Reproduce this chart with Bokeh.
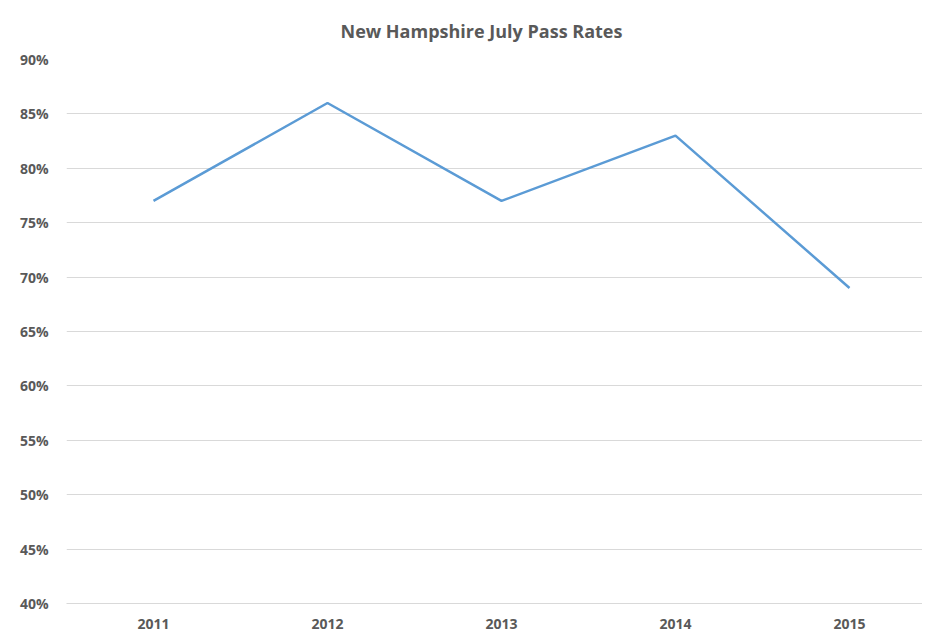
from bokeh.plotting import figure
from bokeh.models import Range1d, FixedTicker, NumeralTickFormatter, Title
from bokeh.embed import file_html
from bokeh.resources import INLINE

title_text = "New Hampshire July Pass Rates"
years = [2011, 2012, 2013, 2014, 2015]
pass_rates = [0.77, 0.86, 0.77, 0.83, 0.69]
y_ticks = [0.40, 0.45, 0.50, 0.55, 0.60, 0.65, 0.70, 0.75, 0.80, 0.85, 0.90]

p = figure(width=922, height=631, output_backend="svg", toolbar_location=None,
           x_range=Range1d(2010.5, 2010.5 + 856 / 174.0), y_range=Range1d(0.40, 0.90),
           min_border_left=66, min_border_right=0, min_border_top=59, min_border_bottom=23)

p.title = Title(text=title_text, align="left", offset=274,
                text_font="Open Sans", text_font_size="18px", text_font_style="bold",
                text_color="#595959", standoff=33)

p.line(years, pass_rates, line_color="#5b9bd5", line_width=2.5)

p.outline_line_color = None
p.background_fill_color = "white"
p.border_fill_color = "white"

p.xaxis.ticker = FixedTicker(ticks=years)
p.yaxis.ticker = FixedTicker(ticks=y_ticks)
p.yaxis.formatter = NumeralTickFormatter(format="0%")

for ax in (p.xaxis, p.yaxis):
    ax.major_tick_line_color = None
    ax.minor_tick_line_color = None
    ax.major_label_text_font = "Open Sans"
    ax.major_label_text_font_style = "bold"
    ax.major_label_text_color = "#595959"
p.yaxis.major_label_text_font_size = "14px"
p.xaxis.major_label_text_font_size = "14px"
p.yaxis.axis_line_color = None
p.xaxis.axis_line_color = "#d9d9d9"
p.yaxis.major_label_standoff = 12
p.xaxis.major_label_standoff = 9

p.xgrid.grid_line_color = None
p.ygrid.grid_line_color = "#d9d9d9"
p.ygrid.grid_line_width = 1

open("out.html", "w").write(file_html(p, INLINE))
